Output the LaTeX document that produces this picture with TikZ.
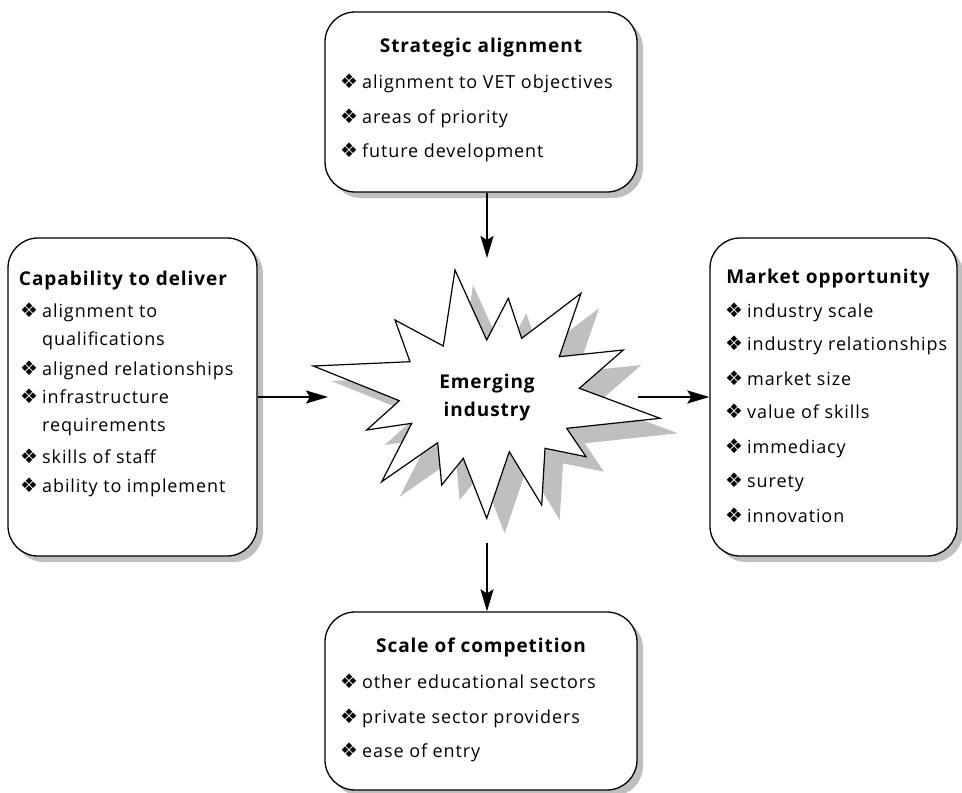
\documentclass[tikz,border=0pt]{standalone}
\usepackage{fontspec}
\setmainfont[LetterSpace=5]{Open Sans}
\newfontfamily\bulfont{DejaVu Sans}
\usepackage{tikz}
\usetikzlibrary{shadows}
\usetikzlibrary{arrows.meta}
\usetikzlibrary{positioning}
\definecolor{shadowGray}{rgb}{0.75,0.75,0.75}
\newcommand{\itemfont}{\fontsize{18}{28}\selectfont}
\newcommand{\titlefont}{\fontsize{19}{28}\selectfont\bfseries}
\newcommand{\bul}{{\bulfont\fontsize{20}{28}\selectfont\symbol{"2756}}}
\newcommand{\bitem}[1]{\makebox[22pt][l]{\bul}\begin{tabular}[t]{@{}l@{}}#1\end{tabular}}
\newcommand{\burstpath}{(455,270) -- (486.7,340) -- (508.3,298.3) -- (521.7,338.3) -- (581,293.3)
  -- (559.3,356.7) -- (623.3,350) -- (579.3,388.3) -- (660,418.3) -- (566.7,428.3)
  -- (586,456.7) -- (545,448.3) -- (541.7,505) -- (509.3,451.7) -- (486.7,518.3)
  -- (463.3,458.3) -- (441.7,485) -- (437.7,442.7) -- (381.7,481.7) -- (411.7,423.3)
  -- (366.7,430) -- (399.3,400.7) -- (313.3,366) -- (410,361.7) -- (395,320)
  -- (443.3,346) -- cycle}
\tikzstyle{BOX} = [draw=black, line width=1.3pt, fill=white, rounded corners=30pt,
  drop shadow={shadow xshift=6pt, shadow yshift=-6pt, fill=shadowGray, opacity=1}]
\tikzstyle{TITLE} = [inner sep=0pt, anchor=base, font=\titlefont]
\tikzstyle{ITEM} = [inner sep=0pt, anchor=base west, font=\itemfont]
\tikzstyle{ARROW} = [line width=2.2pt, -{Stealth[length=22pt, width=13pt, inset=4pt]}]

\begin{document}
\begin{tikzpicture}[x=1pt, y=-1pt]
  \useasboundingbox (0,0) rectangle (962,793);
  % the four criteria boxes
  \node [BOX, minimum width=312pt, minimum height=180pt] (strat) at (481,102) {};
  \node [BOX, minimum width=249pt, minimum height=318pt] (capab) at (132.5,397) {};
  \node [BOX, minimum width=247pt, minimum height=318pt] (market) at (833.5,397) {};
  \node [BOX, minimum width=312pt, minimum height=178pt] (compet) at (481,701) {};
  % the burst in the middle
  \fill [shadowGray, shift={(18,15)}] \burstpath;
  \draw [line width=1.2pt, fill=white, line join=miter] \burstpath;
  \node [align=center, inner sep=0pt, font=\titlefont] (emerging) at (487,398) {Emerging\\industry};
  \coordinate (burstTop) at (487,258);
  \coordinate (burstLeft) at (328,397);
  \coordinate (burstRight) at (638,397);
  \coordinate (burstBottom) at (487,543);
  % texts
  \node [TITLE] (stratTitle) at (481,52) {Strategic alignment};
  \node [ITEM] (strat1) at (340,88) {\bitem{alignment to VET objectives}};
  \node [ITEM] (strat2) at (340,123) {\bitem{areas of priority}};
  \node [ITEM] (strat3) at (340,157) {\bitem{future development}};
  \node [TITLE] (capabTitle) at (123,285) {Capability to deliver};
  \node [ITEM] (capab1) at (20,317) {\bitem{alignment to\\qualifications}};
  \node [ITEM] (capab2) at (20,375) {\bitem{aligned relationships}};
  \node [ITEM] (capab3) at (20,403) {\bitem{infrastructure\\requirements}};
  \node [ITEM] (capab4) at (20,463) {\bitem{skills of staff}};
  \node [ITEM] (capab5) at (20,492) {\bitem{ability to implement}};
  \node [TITLE] (marketTitle) at (828,283) {Market opportunity};
  \node [ITEM] (market1) at (725,317) {\bitem{industry scale}};
  \node [ITEM] (market2) at (725,350) {\bitem{industry relationships}};
  \node [ITEM] (market3) at (725,385) {\bitem{market size}};
  \node [ITEM] (market4) at (725,418) {\bitem{value of skills}};
  \node [ITEM] (market5) at (725,453) {\bitem{immediacy}};
  \node [ITEM] (market6) at (725,487) {\bitem{surety}};
  \node [ITEM] (market7) at (725,522) {\bitem{innovation}};
  \node [TITLE] (competTitle) at (481,652) {Scale of competition};
  \node [ITEM] (compet1) at (340,688) {\bitem{other educational sectors}};
  \node [ITEM] (compet2) at (340,723) {\bitem{private sector providers}};
  \node [ITEM] (compet3) at (340,757) {\bitem{ease of entry}};
  % arrows
  \draw [ARROW] (strat.south -| burstTop) -- (burstTop);
  \draw [ARROW] (capab.east |- burstLeft) -- (burstLeft);
  \draw [ARROW] (burstRight) -- (market.west |- burstRight);
  \draw [ARROW] (burstBottom) -- (compet.north -| burstBottom);
\end{tikzpicture}
\end{document}
